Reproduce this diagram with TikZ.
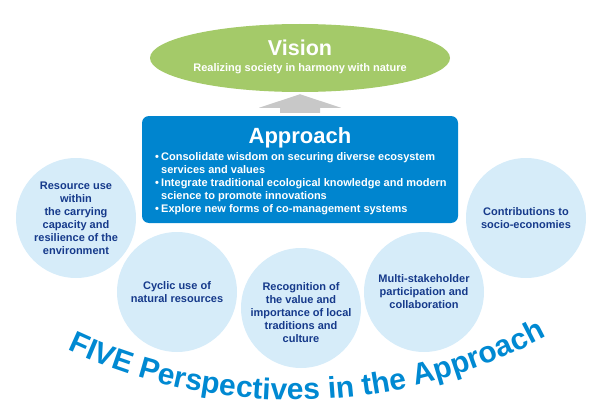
\documentclass[tikz,border=0pt]{standalone}
\usepackage{fontspec}
\setmainfont{Liberation Sans}
\usetikzlibrary{shapes.geometric,decorations.text,calc}

\definecolor{visiongreen}{RGB}{164,202,105}
\definecolor{arrowgray}{RGB}{200,200,200}
\definecolor{approachblue}{RGB}{0,133,207}
\definecolor{circleblue}{RGB}{214,236,249}
\definecolor{circletext}{RGB}{22,58,139}
\definecolor{fiveblue}{RGB}{0,137,210}

\begin{document}
\begin{tikzpicture}[
    x=1pt, y=-1pt,
    visionball/.style={ellipse, fill=visiongreen, minimum width=300pt, minimum height=68pt, inner sep=0pt},
    approachbox/.style={rectangle, rounded corners=7pt, fill=approachblue, minimum width=316pt, minimum height=107pt, inner sep=0pt},
    perspective/.style={circle, fill=circleblue, minimum size=120pt, inner sep=0pt, align=center, text=circletext, font=\bfseries\fontsize{11}{13}\selectfont},
    perspectivetext/.style={inner sep=0pt, align=center, text=circletext, font=\bfseries\fontsize{11}{13}\selectfont},
    whitetext/.style={text=white, inner sep=0pt, font=\bfseries\fontsize{11}{13}\selectfont},
    uparrow/.style={fill=arrowgray}
  ]
  \useasboundingbox (0,0) rectangle (600,420);

  \node[perspective] (resource) at (76,218) {Resource use\\within\\the carrying\\capacity and\\resilience of the\\environment};
  \node[perspective] (cyclic) at (177,292) {Cyclic use of\\natural resources};
  \node[perspective] (tradition) at (301,308) {};
  \node[perspectivetext] (traditiontext) at ($(tradition)+(0,5)$) {Recognition of\\the value and\\importance of local\\traditions and\\culture};
  \node[perspective] (stakeholder) at (424,292) {Multi-stakeholder\\participation and\\collaboration};
  \node[perspective] (economy) at (526,218) {Contributions to\\socio-economies};

  \node[approachbox] (approach) at (300,169.5) {};
  \node[whitetext, font=\bfseries\fontsize{22}{22}\selectfont, anchor=base] (apptitle) at (300,143) {Approach};
  \node[whitetext, align=left, anchor=north west] (applist) at (155,152) {%
    \makebox[6pt][l]{\textbullet}Consolidate wisdom on securing diverse ecosystem\\
    \hspace*{6pt}services and values\\
    \makebox[6pt][l]{\textbullet}Integrate traditional ecological knowledge and modern\\
    \hspace*{6pt}science to promote innovations\\
    \makebox[6pt][l]{\textbullet}Explore new forms of co-management systems};

  \node[visionball] (vision) at (300,58) {};
  \node[whitetext, font=\bfseries\fontsize{21.5}{22}\selectfont, anchor=base] (visiontitle) at (300,56) {Vision};
  \node[whitetext, anchor=base] (visionsub) at (300,71) {Realizing society in harmony with nature};

  \coordinate (tip) at ($(vision.south)+(0,2)$);
  \fill[uparrow] ($(approach.north)+(-20,-3)$) -- ($(approach.north)+(-20,-8)$) -- ($(approach.north)+(-41,-8)$)
    -- (tip) -- ($(approach.north)+(41,-8)$) -- ($(approach.north)+(20,-8)$) -- ($(approach.north)+(20,-3)$) -- cycle;

  \path[decorate, decoration={text along path, text align=center,
      text={|\fontsize{30}{30}\selectfont\bfseries\color{fiveblue}|FIVE Perspectives in the Approach}}]
    (294,-134) ++(115.1:534) arc[start angle=115.1, end angle=61.8, radius=534];
\end{tikzpicture}
\end{document}
